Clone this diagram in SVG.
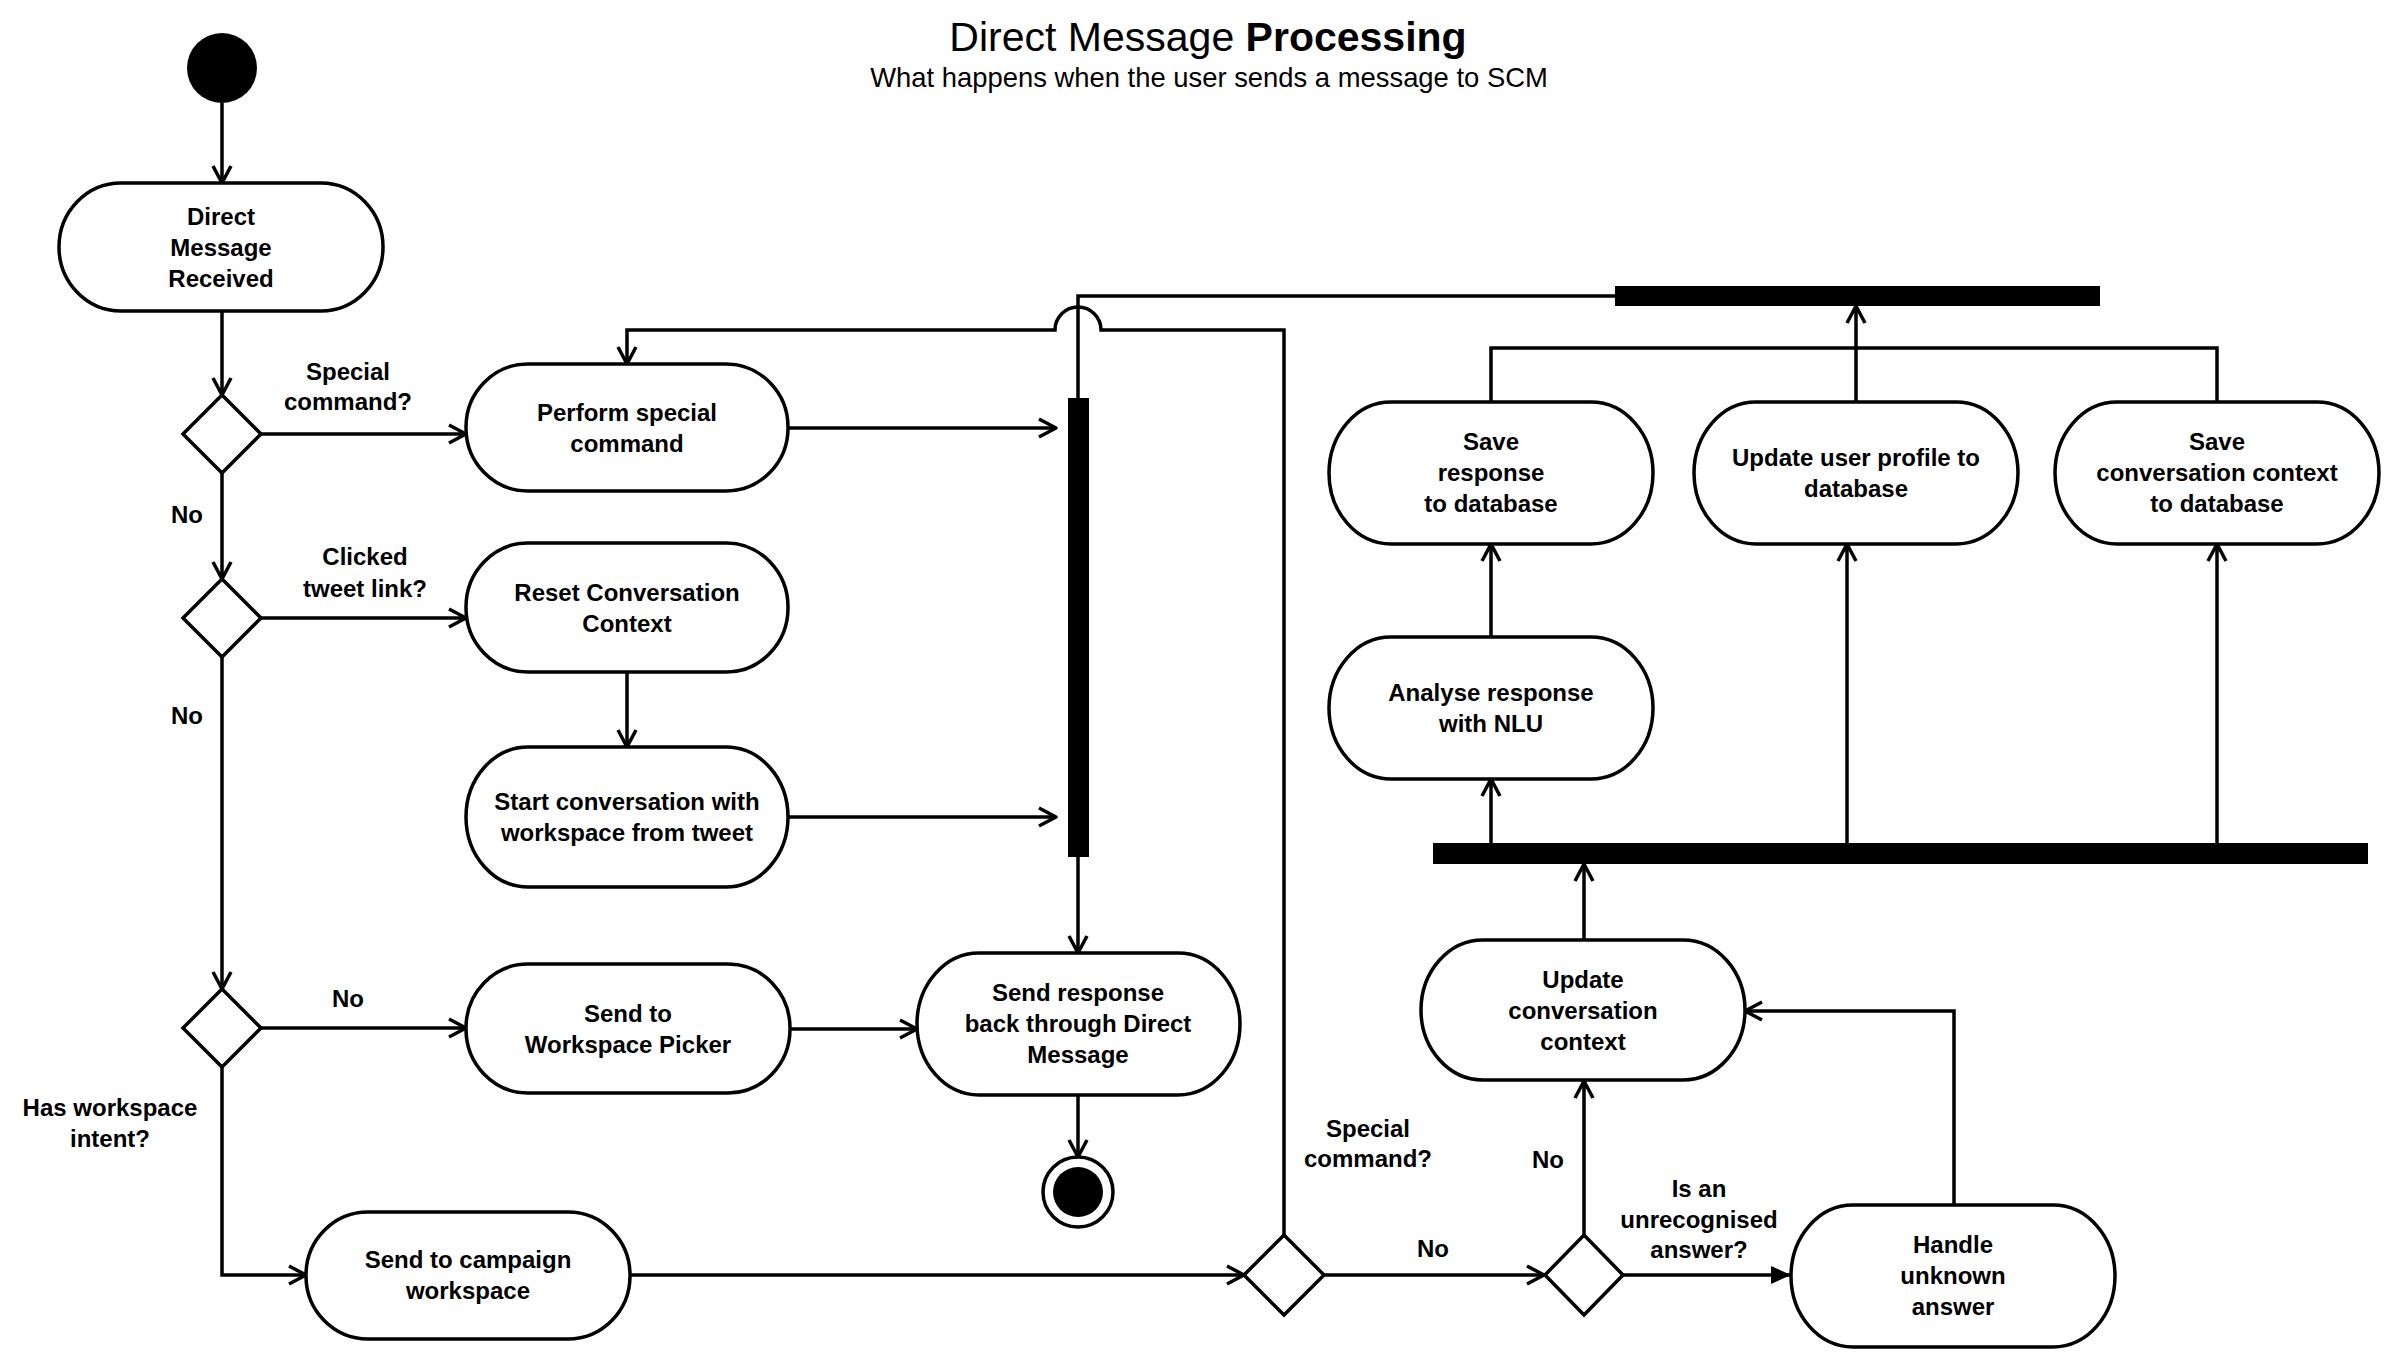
<svg xmlns="http://www.w3.org/2000/svg" width="2396" height="1360" viewBox="0 0 2396 1360">
<style>
  .node { fill: #fff; stroke: #000; stroke-width: 3.5; }
  .dia { fill: #fff; stroke: #000; stroke-width: 3.5; stroke-linejoin: miter; }
  .bar { fill: #000; }
  .t { font-family: "Liberation Sans", Arial, Helvetica, sans-serif; font-size: 24px; font-weight: bold; text-anchor: middle; fill: #000; }
  .c { fill: none; stroke: #000; stroke-width: 3.5; }
  .a { marker-end: url(#arr); }
  .af { marker-end: url(#arrf); }
  .title { font-family: "Liberation Sans", Arial, Helvetica, sans-serif; font-size: 41px; text-anchor: middle; fill: #000; }
  .sub { font-family: "Liberation Sans", Arial, Helvetica, sans-serif; font-size: 27.4px; text-anchor: middle; fill: #000; }
</style>
<defs>
  <marker id="arr" markerUnits="userSpaceOnUse" orient="auto" overflow="visible" markerWidth="1" markerHeight="1" refX="0" refY="0">
    <path d="M-17,-9 L0,0 L-17,9" fill="none" stroke="#000" stroke-width="3.5" stroke-linejoin="round"/>
  </marker>
  <marker id="arrf" markerUnits="userSpaceOnUse" orient="auto" overflow="visible" markerWidth="1" markerHeight="1" refX="0" refY="0">
    <path d="M-20,-9 L0,0 L-20,9 Z" fill="#000" stroke="none"/>
  </marker>
</defs>
<rect width="2396" height="1360" fill="#fff"/>

<g id="title">
  <text class="title" x="1208" y="51">Direct Message <tspan font-weight="bold">Processing</tspan></text>
  <text class="sub" x="1209" y="87">What happens when the user sends a message to SCM</text>
</g>

<g id="connectors">
  <path class="c a" d="M222,103 L222,183"/>
  <path class="c a" d="M222,311 L222,395"/>
  <path class="c a" d="M261,434 L466,434"/>
  <path class="c a" d="M222,473 L222,579"/>
  <path class="c a" d="M261,618 L466,618"/>
  <path class="c a" d="M627,672 L627,747"/>
  <path class="c a" d="M222,657 L222,989"/>
  <path class="c a" d="M261,1028 L466,1028"/>
  <path class="c a" d="M790,1029 L917,1029"/>
  <path class="c a" d="M222,1067 L222,1275 L306,1275"/>
  <path class="c a" d="M630,1275 L1244,1275"/>
  <path class="c a" d="M788,428 L1056,428"/>
  <path class="c a" d="M788,817 L1056,817"/>
  <path class="c a" d="M1078,857 L1078,953"/>
  <path class="c a" d="M1078,1095 L1078,1157"/>
  <path class="c a" d="M1284,1235 L1284,330 L1101,330 A23,23 0 0 0 1055,330 L627,330 L627,364"/>
  <path class="c" d="M1078,398 L1078,296 L1615,296"/>
  <path class="c a" d="M1324,1275 L1544,1275"/>
  <path class="c af" d="M1623,1275 L1791,1275"/>
  <path class="c a" d="M1584,1235 L1584,1081"/>
  <path class="c a" d="M1954,1205 L1954,1011 L1745,1011"/>
  <path class="c a" d="M1584,940 L1584,864"/>
  <path class="c a" d="M1491,843 L1491,779"/>
  <path class="c a" d="M1847,843 L1847,544"/>
  <path class="c a" d="M2217,843 L2217,544"/>
  <path class="c a" d="M1491,637 L1491,544"/>
  <path class="c" d="M1491,402 L1491,348 L2217,348 L2217,402"/>
  <path class="c a" d="M1856,402 L1856,306"/>
</g>

<g id="start"><circle cx="222" cy="68" r="35" fill="#000"/></g>

<g id="n-dmr">
  <rect class="node" x="59" y="183" width="324" height="128" rx="62" ry="64"/>
  <text class="t" x="221" y="225">Direct</text>
  <text class="t" x="221" y="256">Message</text>
  <text class="t" x="221" y="287">Received</text>
</g>

<g id="d1"><polygon class="dia" points="222,395 261,434 222,473 183,434"/></g>
<g id="d2"><polygon class="dia" points="222,579 261,618 222,657 183,618"/></g>
<g id="d3"><polygon class="dia" points="222,989 261,1028 222,1067 183,1028"/></g>
<g id="d4"><polygon class="dia" points="1284,1235 1324,1275 1284,1315 1244,1275"/></g>
<g id="d5"><polygon class="dia" points="1584,1235 1623,1275 1584,1315 1545,1275"/></g>

<g id="n-perform">
  <rect class="node" x="466" y="364" width="322" height="127" rx="62" ry="63"/>
  <text class="t" x="627" y="421">Perform special</text>
  <text class="t" x="627" y="452">command</text>
</g>

<g id="n-reset">
  <rect class="node" x="466" y="543" width="322" height="129" rx="62" ry="64"/>
  <text class="t" x="627" y="601">Reset Conversation</text>
  <text class="t" x="627" y="632">Context</text>
</g>

<g id="n-startconv">
  <rect class="node" x="466" y="747" width="322" height="140" rx="62" ry="70"/>
  <text class="t" x="627" y="810">Start conversation with</text>
  <text class="t" x="627" y="841">workspace from tweet</text>
</g>

<g id="n-picker">
  <rect class="node" x="466" y="964" width="324" height="129" rx="62" ry="64"/>
  <text class="t" x="628" y="1022">Send to</text>
  <text class="t" x="628" y="1053">Workspace Picker</text>
</g>

<g id="n-campaign">
  <rect class="node" x="306" y="1212" width="324" height="127" rx="62" ry="63"/>
  <text class="t" x="468" y="1268">Send to campaign</text>
  <text class="t" x="468" y="1299">workspace</text>
</g>

<g id="n-sendresp">
  <rect class="node" x="917" y="953" width="323" height="142" rx="62" ry="71"/>
  <text class="t" x="1078" y="1001">Send response</text>
  <text class="t" x="1078" y="1032">back through Direct</text>
  <text class="t" x="1078" y="1063">Message</text>
</g>

<g id="end">
  <circle cx="1078" cy="1192" r="35" fill="#fff" stroke="#000" stroke-width="3.5"/>
  <circle cx="1078" cy="1192" r="25" fill="#000"/>
</g>

<g id="bar1"><rect class="bar" x="1068" y="398" width="21" height="459"/></g>
<g id="bar-top"><rect class="bar" x="1615" y="286" width="485" height="20"/></g>
<g id="bar2"><rect class="bar" x="1433" y="843" width="935" height="21"/></g>

<g id="n-updatectx">
  <rect class="node" x="1421" y="940" width="324" height="140" rx="62" ry="70"/>
  <text class="t" x="1583" y="988">Update</text>
  <text class="t" x="1583" y="1019">conversation</text>
  <text class="t" x="1583" y="1050">context</text>
</g>

<g id="n-handle">
  <rect class="node" x="1791" y="1205" width="324" height="142" rx="62" ry="71"/>
  <text class="t" x="1953" y="1253">Handle</text>
  <text class="t" x="1953" y="1284">unknown</text>
  <text class="t" x="1953" y="1315">answer</text>
</g>

<g id="n-analyse">
  <rect class="node" x="1329" y="637" width="324" height="142" rx="62" ry="71"/>
  <text class="t" x="1491" y="701">Analyse response</text>
  <text class="t" x="1491" y="732">with NLU</text>
</g>

<g id="n-saveresp">
  <rect class="node" x="1329" y="402" width="324" height="142" rx="62" ry="71"/>
  <text class="t" x="1491" y="450">Save</text>
  <text class="t" x="1491" y="481">response</text>
  <text class="t" x="1491" y="512">to database</text>
</g>

<g id="n-profile">
  <rect class="node" x="1694" y="402" width="324" height="142" rx="62" ry="71"/>
  <text class="t" x="1856" y="466">Update user profile to</text>
  <text class="t" x="1856" y="497">database</text>
</g>

<g id="n-savectx">
  <rect class="node" x="2055" y="402" width="324" height="142" rx="62" ry="71"/>
  <text class="t" x="2217" y="450">Save</text>
  <text class="t" x="2217" y="481">conversation context</text>
  <text class="t" x="2217" y="512">to database</text>
</g>

<g id="labels">
  <text class="t" x="348" y="380">Special</text>
  <text class="t" x="348" y="410">command?</text>
  <text class="t" x="187" y="523">No</text>
  <text class="t" x="365" y="565">Clicked</text>
  <text class="t" x="365" y="597">tweet link?</text>
  <text class="t" x="187" y="724">No</text>
  <text class="t" x="348" y="1007">No</text>
  <text class="t" x="110" y="1116">Has workspace</text>
  <text class="t" x="110" y="1147">intent?</text>
  <text class="t" x="1368" y="1137">Special</text>
  <text class="t" x="1368" y="1167">command?</text>
  <text class="t" x="1433" y="1257">No</text>
  <text class="t" x="1548" y="1168">No</text>
  <text class="t" x="1699" y="1197">Is an</text>
  <text class="t" x="1699" y="1228">unrecognised</text>
  <text class="t" x="1699" y="1258">answer?</text>
</g>
</svg>
